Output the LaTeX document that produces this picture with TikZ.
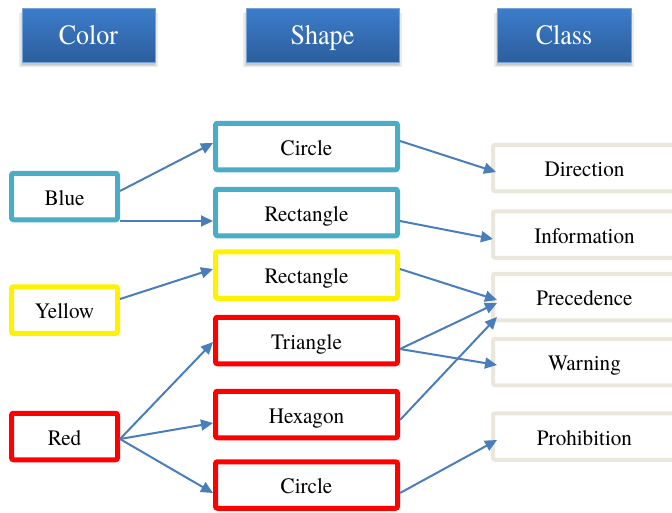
\documentclass[tikz,border=0pt]{standalone}
\usepackage{fontspec}
\setmainfont{TeX Gyre Termes}
\usetikzlibrary{arrows.meta,calc}
\definecolor{aqua}{HTML}{4BACC6}
\definecolor{conn}{HTML}{4A7EBB}
\definecolor{beige}{HTML}{EAE7DC}
\definecolor{hdrtop}{HTML}{3C7DCA}
\definecolor{hdrbot}{HTML}{2C5E9D}
\newcommand{\hdrtxt}[1]{\scalebox{0.93}[1]{\fontsize{28}{30}\selectfont #1}}
\newcommand{\bodytxt}[1]{\scalebox{0.96}[1]{\fontsize{22}{26}\selectfont #1}}
\tikzset{
  hdr/.style={rectangle, minimum width=#1, minimum height=54pt, inner sep=0pt,
    top color=hdrtop, bottom color=hdrbot, draw=hdrtop!70!white, line width=0.6pt, text=white,
    text height=22pt, text depth=4pt},
  hshadow/.style={rectangle, minimum width=#1, minimum height=54pt, inner sep=0pt, fill=black, fill opacity=0.08, draw=none},
  cbox/.style={rectangle, draw=#1, line width=5pt, rounded corners=2pt, fill=white,
    minimum width=106pt, minimum height=46.5pt, inner sep=0pt, text height=20pt, text depth=2.8pt},
  sbox/.style={rectangle, draw=#1, line width=5pt, rounded corners=2pt, fill=white,
    minimum width=182pt, minimum height=46.5pt, inner sep=0pt, text height=20pt, text depth=2.8pt},
  kbox/.style={rectangle, draw=beige, line width=4pt, rounded corners=2pt, fill=white,
    minimum width=183pt, minimum height=46.5pt, inner sep=0pt, text height=20pt, text depth=2.8pt},
  conn/.style={draw=conn, line width=2pt, -{Triangle[length=12pt,width=11pt]}}
}
\begin{document}
\begin{tikzpicture}[x=1pt,y=-1pt]
\useasboundingbox (0,0) rectangle (672,512);
% header shadows
\foreach \cx/\w in {88.5/133, 322.5/153, 564/134}{
  \node[hshadow=\w+6pt] at (\cx,40) {};
  \node[hshadow=\w+2pt] at (\cx,39) {};
  \node[hshadow=\w] at (\cx,38) {};
}
% headers
\node[hdr=133pt] (hcolor) at (88.5,35) {\hdrtxt{Color}};
\node[hdr=153pt] (hshape) at (322.5,35) {\hdrtxt{Shape}};
\node[hdr=134pt] (hclass) at (564,35) {\hdrtxt{Class}};
% color column
\node[cbox=aqua] (blue) at (64.5,196.5) {\bodytxt{Blue}};
\node[cbox=yellow] (yellow) at (64.5,310) {\bodytxt{Yellow}};
\node[cbox=red] (red) at (64.5,436.5) {\bodytxt{Red}};
% shape column
\node[sbox=aqua] (circb) at (306.5,146.5) {\bodytxt{Circle}};
\node[sbox=aqua] (rectb) at (306.5,212.5) {\bodytxt{Rectangle}};
\node[sbox=yellow] (recty) at (306.5,275) {\bodytxt{Rectangle}};
\node[sbox=red] (tri) at (306.5,340.5) {\bodytxt{Triangle}};
\node[sbox=red] (hex) at (306.5,414.5) {\bodytxt{Hexagon}};
\node[sbox=red] (circr) at (306.5,485) {\bodytxt{Circle}};
% class column
\node[kbox] (dir) at (584.5,168) {\bodytxt{Direction}};
\node[kbox] (inf) at (584.5,234.5) {\bodytxt{Information}};
\node[kbox] (pre) at (584.5,297) {\bodytxt{Precedence}};
\node[kbox] (war) at (584.5,362) {\bodytxt{Warning}};
\node[kbox] (pro) at (584.5,436.5) {\bodytxt{Prohibition}};
% connectors color -> shape
\draw[conn] (blue.east |- 0,191) -- (circb.west |- 0,143);
\draw[conn] (blue.east |- 0,221) -- (rectb.west |- 0,221);
\draw[conn] (yellow.east |- 0,299) -- (recty.west |- 0,269);
\draw[conn] (red.east |- 0,439) -- (tri.west |- 0,342);
\draw[conn] (red.east |- 0,439) -- (hex.west |- 0,423);
\draw[conn] (red.east |- 0,439) -- (circr.west |- 0,493);
% connectors shape -> class
\draw[conn] (circb.east |- 0,141) -- ($(dir.west |- 0,172)+(5,0)$);
\draw[conn] (rectb.east |- 0,221) -- ($(inf.west |- 0,239)+(2,0)$);
\draw[conn] (recty.east |- 0,269) -- ($(pre.west |- 0,300)+(6,0)$);
\draw[conn] (tri.east |- 0,349) -- ($(pre.west |- 0,303)+(6,0)$);
\draw[conn] (tri.east |- 0,349) -- ($(war.west |- 0,365)+(6,0)$);
\draw[conn] (hex.east |- 0,420) -- ($(pre.west |- 0,317)+(6,0)$);
\draw[conn] (circr.east |- 0,493) -- ($(pro.west |- 0,440)+(6,0)$);
\end{tikzpicture}
\end{document}
